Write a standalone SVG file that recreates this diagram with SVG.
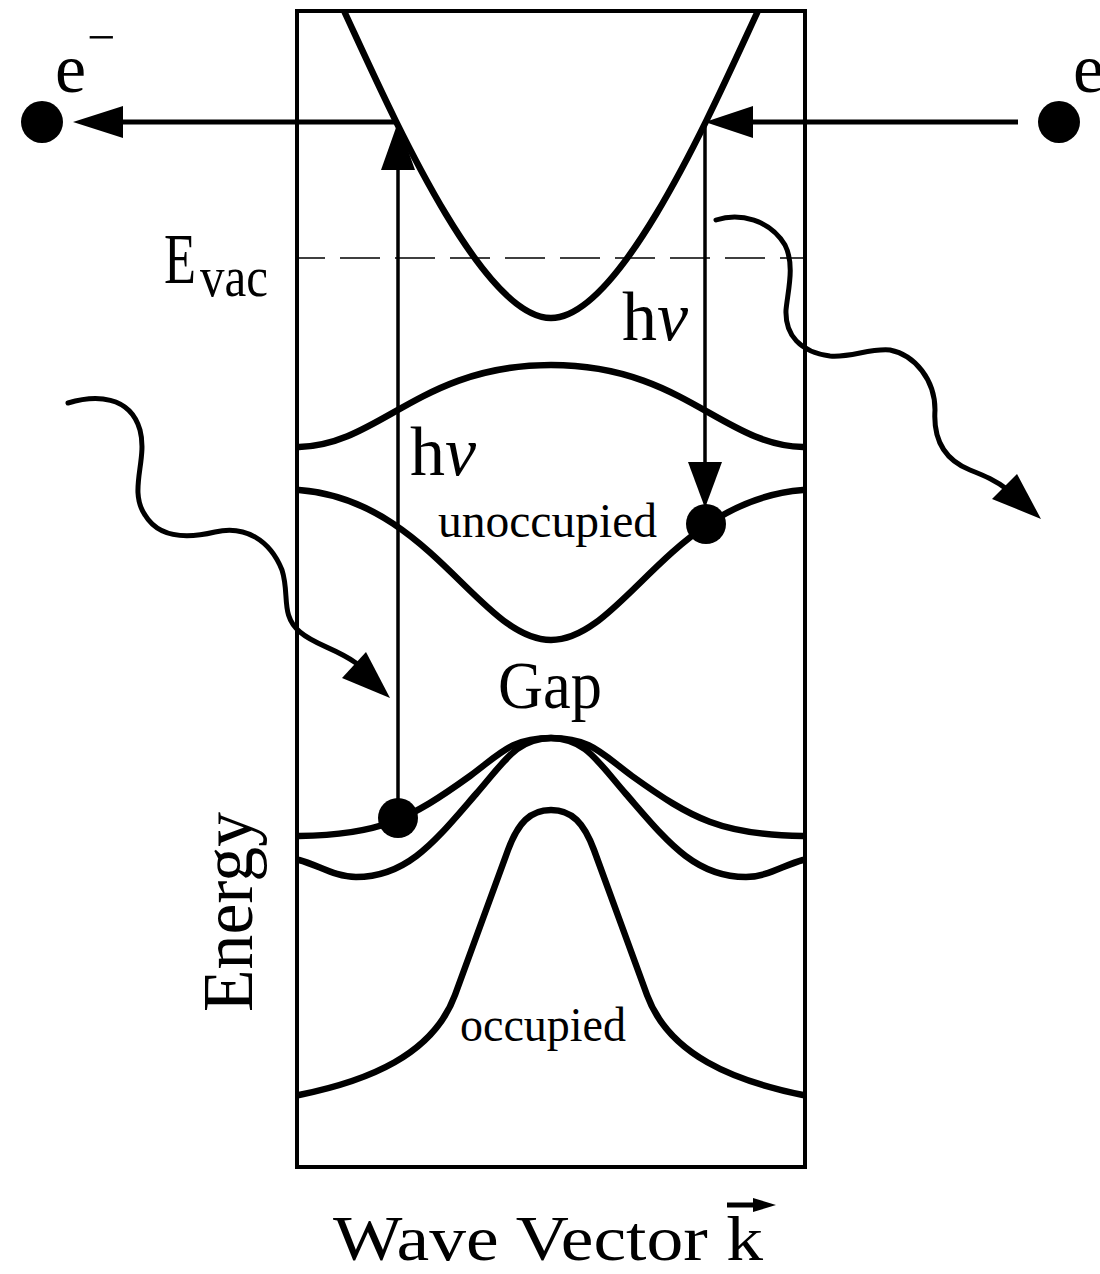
<svg xmlns="http://www.w3.org/2000/svg" width="1100" height="1274" viewBox="0 0 1100 1274">
<style>
  .band { fill: none; stroke: #000; stroke-width: 6.5; stroke-linecap: round; }
  .frame { fill: none; stroke: #000; stroke-width: 4; }
  .ln { stroke: #000; fill: none; }
  .head { fill: #000; stroke: none; }
  .dot { fill: #000; }
  .wave { fill: none; stroke: #000; stroke-width: 5; stroke-linecap: round; stroke-linejoin: round; }
  .t { font-family: "Liberation Serif", "Times New Roman", serif; fill: #000; }
</style>
<rect width="1100" height="1274" fill="#fff"/>

<g id="frame">
  <rect class="frame" x="297" y="11" width="508" height="1156"/>
</g>

<g id="evac-line">
  <line x1="299" y1="258" x2="803" y2="258" stroke="#000" stroke-width="1.6" stroke-dasharray="40 15" stroke-dashoffset="14"/>
</g>

<g id="bands">
  <path id="free-electron-band" class="band" d="M345,13 C390,110 481,318 551,318 C621,318 712,110 757,13"/>
  <path id="band-a" class="band" d="M299,447 C380,445 420,365 551,365 C682,365 722,445 803,447"/>
  <path id="band-b" class="band" d="M299,490 C430,500 480,640 551,640 C622,640 672,500 803,490"/>
  <path id="band-c" class="band" d="M299,836 C380,835 410,819 470,776 C500,754 511,738 551,738 C591,738 602,754 632,776 C692,819 722,835 803,836"/>
  <path id="band-d" class="band" d="M299,860 C318,865 335,877 356,877 C408,877 436,840 476,794 C504,762 517,738 551,738 C585,738 598,762 626,794 C666,840 694,877 746,877 C767,877 784,865 803,860"/>
  <path id="band-e" class="band" d="M299,1095 C368,1081 433,1055 455,995 C472,948 491,897 508,850 C518,823 530,810 551,810 C572,810 584,823 594,850 C611,897 630,948 647,995 C669,1055 734,1081 803,1095"/>
</g>

<g id="connectors">
  <g id="emitted-electron-arrow">
    <line class="ln" x1="398" y1="122" x2="118" y2="122" stroke-width="5"/>
    <polygon class="head" points="73,122 123,106 123,138"/>
  </g>
  <g id="incoming-electron-arrow">
    <line class="ln" x1="1018" y1="122" x2="748" y2="122" stroke-width="5"/>
    <polygon class="head" points="705,122 753,106 753,138"/>
  </g>
  <g id="excitation-arrow">
    <line class="ln" x1="398" y1="818" x2="398" y2="165" stroke-width="3.5"/>
    <polygon class="head" points="398,122 381,170 415,170"/>
  </g>
  <g id="deexcitation-arrow">
    <line class="ln" x1="705" y1="122" x2="705" y2="468" stroke-width="3.5"/>
    <polygon class="head" points="688,462 722,462 705,508"/>
  </g>
  <g id="photon-in">
    <path class="wave" d="M68,403 C95,395 130,395 140,430 C148,460 128,490 145,515 C160,540 190,538 215,532 C245,525 270,540 282,570 C290,595 280,615 300,632 C315,645 335,648 356,663"/>
    <polygon class="head" points="390,698 342,678 366,652"/>
  </g>
  <g id="photon-out">
    <path class="wave" d="M716,220 C740,212 770,220 785,245 C795,265 788,290 786,310 C785,335 800,352 830,356 C850,358 870,348 890,350 C915,355 935,380 935,410 C933,440 945,460 970,470 C985,476 995,480 1008,490"/>
    <polygon class="head" points="1041,519 992,499 1017,474"/>
  </g>
</g>

<g id="electron-out">
  <circle class="dot" cx="42" cy="122" r="21"/>
  <text class="t" x="55" y="92" font-size="70">e<tspan x="87" y="54" font-size="50">−</tspan></text>
</g>
<g id="electron-in">
  <circle class="dot" cx="1059" cy="122" r="21"/>
  <text class="t" x="1073" y="92" font-size="70">e</text>
</g>
<g id="initial-state">
  <circle class="dot" cx="398" cy="818" r="20"/>
</g>
<g id="final-state">
  <circle class="dot" cx="706" cy="524" r="20"/>
</g>

<g id="label-evac">
  <text class="t" x="164" y="283" font-size="72"><tspan textLength="32" lengthAdjust="spacingAndGlyphs">E</tspan><tspan x="200" y="296" font-size="58" textLength="68" lengthAdjust="spacingAndGlyphs">vac</tspan></text>
</g>
<g id="label-hv-upper">
  <text class="t" x="622" y="340" font-size="70">h<tspan font-style="italic">ν</tspan></text>
</g>
<g id="label-hv-lower">
  <text class="t" x="410" y="475" font-size="70">h<tspan font-style="italic">ν</tspan></text>
</g>
<g id="label-unoccupied">
  <text class="t" x="438" y="537" font-size="48" textLength="219" lengthAdjust="spacingAndGlyphs">unoccupied</text>
</g>
<g id="label-gap">
  <text class="t" x="498" y="708" font-size="68" textLength="104" lengthAdjust="spacingAndGlyphs">Gap</text>
</g>
<g id="label-occupied">
  <text class="t" x="460" y="1041" font-size="48" textLength="166" lengthAdjust="spacingAndGlyphs">occupied</text>
</g>
<g id="label-energy">
  <text class="t" transform="translate(252,1012) rotate(-90)" x="0" y="0" font-size="72" textLength="200" lengthAdjust="spacingAndGlyphs">Energy</text>
</g>
<g id="label-wave-vector">
  <text class="t" x="333" y="1260" font-size="64" textLength="430" lengthAdjust="spacingAndGlyphs">Wave Vector k</text>
  <line class="ln" x1="727" y1="1205" x2="756" y2="1205" stroke-width="5"/>
  <polygon class="head" points="753,1198 776,1205 753,1212"/>
</g>
</svg>
